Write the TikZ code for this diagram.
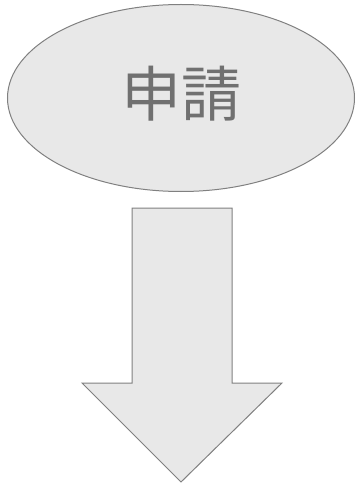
\documentclass[tikz,border=0pt]{standalone}
\usepackage{fontspec}
\newfontfamily\cjkfont{Noto Sans CJK JP}
\usetikzlibrary{shapes.geometric}

\definecolor{shapefill}{HTML}{E8E8E8}
\definecolor{shapeedge}{HTML}{808080}
\definecolor{labeltext}{HTML}{707070}

\begin{document}
\begin{tikzpicture}[
  x=1pt,y=-1pt,
  blob/.style={ellipse,draw=shapeedge,fill=shapefill,line width=1pt,
    minimum width=347pt,minimum height=187pt,inner sep=0pt},
  bigarrow/.style={draw=shapeedge,fill=shapefill,line width=1pt,line join=miter}
]
  \useasboundingbox (0,0) rectangle (357,484);

  % Ellipse
  \node[blob] (apply) at (181,98) {};
  \node[text=labeltext,font=\cjkfont\fontsize{60}{60}\selectfont] (applylabel) at (181,94) {申請};

  % Arrow
  \draw[bigarrow] (132,208) -- (232,208) -- (232,383) -- (282,383)
    -- (181,482) -- (82,383) -- (132,383) -- cycle;
\end{tikzpicture}
\end{document}
